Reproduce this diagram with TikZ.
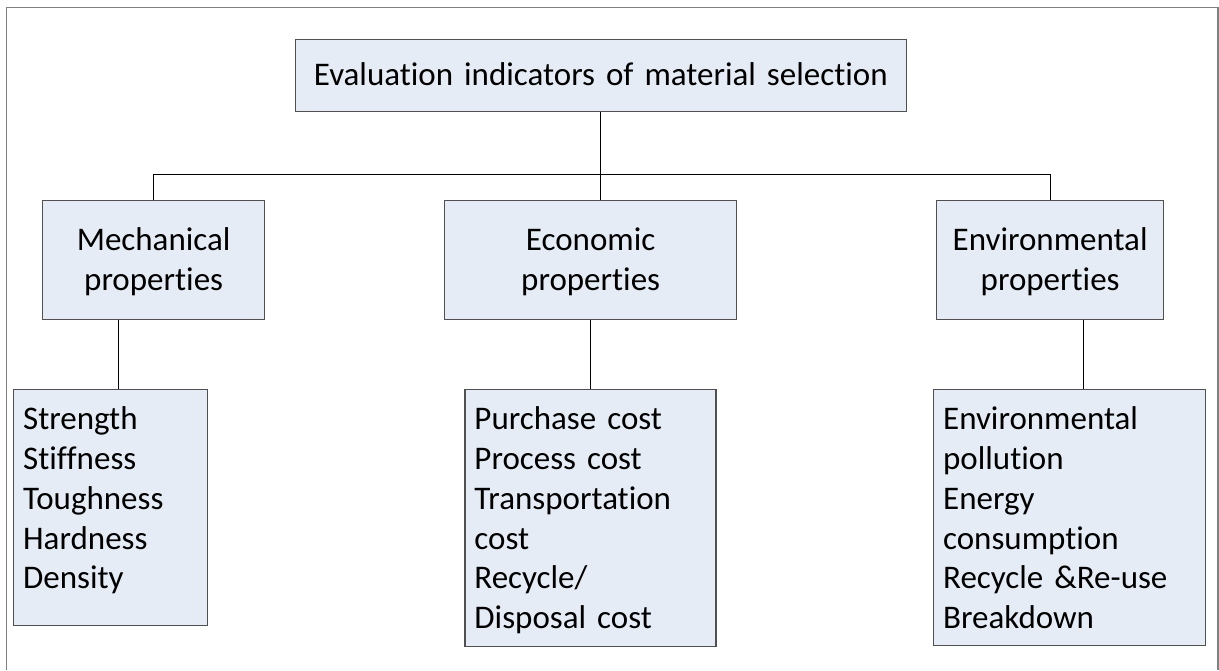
\documentclass[tikz,border=0pt]{standalone}
\usepackage{fontspec}
\setmainfont{Carlito}[Ligatures=NoCommon]
\definecolor{boxfill}{HTML}{E6ECF6}
\definecolor{boxline}{HTML}{505050}
\definecolor{frameline}{HTML}{808080}
\tikzset{
	box/.style={draw=boxline,line width=1.3pt,fill=boxfill,anchor=north west,
		inner xsep=0pt,inner ysep=0pt,font=\fontsize{33}{39.8}\selectfont},
	headbox/.style={box,align=center},
	leafbox/.style={box,align=left,inner xsep=9.5pt},
	link/.style={draw=black,line width=1pt}
}
\begin{document}
\begin{tikzpicture}[x=1pt,y=-1pt]
		\useasboundingbox (0,0) rectangle (1219,670);
		% frame
		\draw[frameline,line width=1.6pt] (6.5,670) -- (6.5,7.5) -- (1217.7,7.5) -- (1217.7,670);
		% top
		\node[headbox,text width=611pt,text height=46pt,text depth=26pt] (top) at (294.7,39)
		{Evaluation indicators of material selection};
		% properties
		\node[headbox,text width=222pt,text height=50pt,text depth=69pt] (mech) at (42,200)
		{Mechanical\\properties};
		\node[headbox,text width=292pt,text height=50pt,text depth=69pt] (econ) at (444,200)
		{Economic\\properties};
		\node[headbox,text width=227pt,text height=50pt,text depth=69pt] (env) at (936,200)
		{Environmental\\properties};
		% indicators
		\node[leafbox,text width=175pt,text height=40pt,text depth=196pt] (mleaf) at (13,389)
		{Strength\\Stiffness\\Toughness\\Hardness\\Density};
		\node[leafbox,text width=232pt,text height=40pt,text depth=217pt] (eleaf) at (464.3,389)
		{Purchase cost\\Process cost\\Transportation\\cost\\Recycle/\\Disposal cost};
		\node[leafbox,text width=253pt,text height=40pt,text depth=216pt] (nleaf) at (933,389)
		{Environmental\\pollution\\Energy\\consumption\\Recycle \&Re-use\\Breakdown};
		% links
		\draw[link] (top.south) -- (top.south |- econ.north);
		\draw[link] (mech.north) -- ++(0,-26) -| (env.north);
		\draw[link] ([xshift=-35pt]mech.south) -- ([xshift=-35pt]mech.south |- mleaf.north);
		\draw[link] (econ.south) -- (econ.south |- eleaf.north);
		\draw[link] ([xshift=33pt]env.south) -- ([xshift=33pt]env.south |- nleaf.north);
	\end{tikzpicture}
\end{document}
